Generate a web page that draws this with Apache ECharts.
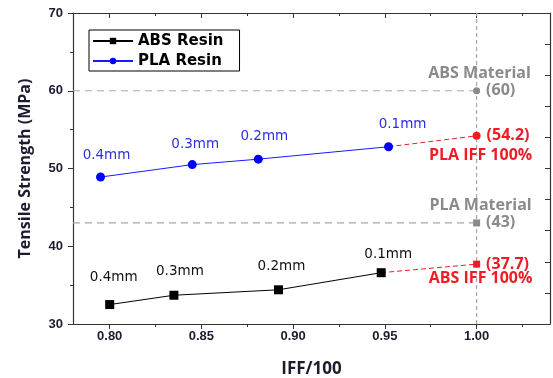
<!DOCTYPE html>
<html>
<head>
<meta charset="utf-8">
<script src="https://cdn.jsdelivr.net/npm/echarts@6/dist/echarts.min.js"></script>
<style>
  html, body { margin: 0; padding: 0; background: #fff; }
  #chart { width: 553px; height: 378px; }
</style>
</head>
<body>
<div id="chart"></div>
<script>
// data
const thickness = ['0.4mm', '0.3mm', '0.2mm', '0.1mm']
const absX = [0.800, 0.835, 0.892, 0.948]
const absY = [32.5, 33.7, 34.4, 36.6]
const plaX = [0.795, 0.845, 0.881, 0.952]
const plaY = [48.9, 50.5, 51.2, 52.8]
const iffX = 1.00
const absIff = 37.7
const plaIff = 54.2
const absMaterial = 60
const plaMaterial = 43

// axis ticks
const xMajorTicks = [0.80, 0.85, 0.90, 0.95, 1.00]
const xMinorTicks = [0.825, 0.875, 0.925, 0.975, 1.025]
const yRightTicks = [34, 38, 42, 46, 50, 54, 58, 62, 66]

// label offsets (px) for thickness labels
const absLabelOffsets = [[4, -27], [6, -24], [3, -23], [7, -18]]
const plaLabelOffsets = [[6, -22], [3, -20], [6, -23], [14, -22]]

const xMin = 0.78
const xMax = 1.04
const yMin = 30
const yMax = 70

const navy = '#1c1c30'
const grey = '#8a8a8a'
const red = '#ee1c25'
const blue = '#1a1aff'

const chart = echarts.init(document.getElementById('chart'))

const thicknessData = (xs, ys, offsets) => xs.map((x, i) => ({
  value: [x, ys[i]],
  label: { offset: offsets[i] }
}))

const baseX = {
  type: 'value', min: xMin, max: xMax,
  splitLine: { show: false }
}

const noteFont = { fontFamily: 'Open Sans', fontWeight: 'bold', fontSize: 16 }

const option = {
  animation: false,
  grid: { left: 73, right: 3, top: 13, bottom: 54, outerBoundsMode: 'none' },
  legend: {
    data: ['ABS Resin', 'PLA Resin'],
    orient: 'vertical',
    left: 89, top: 30,
    padding: [2, 16, 1, 3],
    itemGap: 2,
    itemWidth: 40, itemHeight: 8,
    borderColor: '#000', borderWidth: 1,
    textStyle: { fontFamily: 'DejaVu Sans', fontWeight: 'bold', fontSize: 15, lineHeight: 18, color: '#000' }
  },
  xAxis: [
    Object.assign({}, baseX, {
      position: 'bottom',
      name: 'IFF/100', nameLocation: 'middle', nameGap: 37,
      nameTextStyle: { fontFamily: 'Open Sans', fontWeight: 'bold', fontSize: 17, color: navy },
      axisLine: { show: true, lineStyle: { color: '#333', width: 1.2 } },
      axisTick: { show: true, customValues: xMajorTicks, length: 5, lineStyle: { color: '#333' } },
      axisLabel: {
        customValues: xMajorTicks, margin: 6,
        formatter: v => v.toFixed(2),
        fontFamily: 'Liberation Sans', fontWeight: 'bold', fontSize: 13, color: navy
      }
    }),
    Object.assign({}, baseX, {
      position: 'bottom',
      axisLine: { show: false },
      axisTick: { show: true, customValues: xMinorTicks, length: 3, lineStyle: { color: '#333' } },
      axisLabel: { show: false }
    }),
    Object.assign({}, baseX, {
      position: 'top',
      axisLine: { show: true, lineStyle: { color: '#333', width: 1.2 } },
      axisTick: { show: true, inside: true, customValues: xMajorTicks, length: 5, lineStyle: { color: '#333' } },
      axisLabel: { show: false }
    }),
    Object.assign({}, baseX, {
      position: 'top',
      axisLine: { show: false },
      axisTick: { show: true, inside: true, customValues: xMinorTicks, length: 3, lineStyle: { color: '#333' } },
      axisLabel: { show: false }
    })
  ],
  yAxis: [
    {
      type: 'value', min: yMin, max: yMax, interval: 10,
      position: 'left',
      name: 'Tensile Strength (MPa)', nameLocation: 'middle', nameGap: 40,
      nameTextStyle: { fontFamily: 'Open Sans', fontWeight: 'bold', fontSize: 16, color: navy },
      splitLine: { show: false },
      axisLine: { show: true, lineStyle: { color: '#333', width: 1.2 } },
      axisTick: { show: true, length: 5, lineStyle: { color: '#333' } },
      minorTick: { show: true, splitNumber: 2, length: 3, lineStyle: { color: '#333' } },
      axisLabel: { margin: 10, fontFamily: 'Liberation Sans', fontWeight: 'bold', fontSize: 13, color: navy }
    },
    {
      type: 'value', min: yMin, max: yMax,
      position: 'right',
      splitLine: { show: false },
      axisLine: { show: true, lineStyle: { color: '#333', width: 1.2 } },
      axisTick: { show: true, inside: true, customValues: yRightTicks, length: 5, lineStyle: { color: '#333' } },
      axisLabel: { show: false }
    }
  ],
  series: [
    // grey reference lines
    {
      type: 'line', silent: true, symbol: 'none', z: 1,
      data: [[xMin, absMaterial], [iffX, absMaterial]],
      lineStyle: { color: '#a8a8a8', width: 1.2, type: [7, 5] }
    },
    {
      type: 'line', silent: true, symbol: 'none', z: 1,
      data: [[xMin, plaMaterial], [iffX, plaMaterial]],
      lineStyle: { color: '#a8a8a8', width: 1.2, type: [7, 5] }
    },
    {
      type: 'line', silent: true, symbol: 'none', z: 1,
      data: [[iffX, yMin], [iffX, yMax]],
      lineStyle: { color: '#a8a8a8', width: 1.2, type: [4, 3] }
    },
    // red extrapolations
    {
      type: 'line', silent: true, symbol: 'none', z: 2,
      data: [[absX[absX.length - 1], absY[absY.length - 1]], [iffX, absIff]],
      lineStyle: { color: red, width: 1, type: [5, 3] }
    },
    {
      type: 'line', silent: true, symbol: 'none', z: 2,
      data: [[plaX[plaX.length - 1], plaY[plaY.length - 1]], [iffX, plaIff]],
      lineStyle: { color: red, width: 1, type: [5, 3] }
    },
    {
      name: 'ABS Resin', type: 'line', z: 3,
      symbol: 'rect', symbolSize: 9,
      itemStyle: { color: '#000' },
      lineStyle: { color: '#000', width: 1 },
      data: thicknessData(absX, absY, absLabelOffsets),
      label: {
        show: true, position: 'inside', color: '#111',
        textBorderWidth: 0,
        fontFamily: 'DejaVu Sans', fontSize: 13.5,
        formatter: p => thickness[p.dataIndex]
      }
    },
    {
      name: 'PLA Resin', type: 'line', z: 3,
      symbol: 'circle', symbolSize: 9,
      itemStyle: { color: '#0000ff' },
      lineStyle: { color: blue, width: 1 },
      data: thicknessData(plaX, plaY, plaLabelOffsets),
      label: {
        show: true, position: 'inside', color: '#2e2ee6',
        textBorderWidth: 0,
        fontFamily: 'DejaVu Sans', fontSize: 13.5,
        formatter: p => thickness[p.dataIndex]
      }
    },
    // raw material points
    {
      type: 'scatter', z: 4, silent: true,
      data: [
        { value: [iffX, absMaterial], symbol: 'circle', symbolSize: 7 },
        { value: [iffX, plaMaterial], symbol: 'rect', symbolSize: 7 }
      ],
      itemStyle: { color: grey, opacity: 1 },
      label: Object.assign({
        show: true, position: 'right', distance: 6, color: grey,
        formatter: p => '(' + p.value[1] + ')'
      }, noteFont)
    },
    {
      type: 'scatter', z: 4, silent: true, symbolSize: 1,
      data: [
        { value: [iffX, absMaterial], label: { offset: [3, -17] } },
        { value: [iffX, plaMaterial], label: { offset: [4, -17] } }
      ],
      itemStyle: { color: 'rgba(0,0,0,0)', opacity: 1 },
      label: Object.assign({
        show: true, position: 'inside', color: grey, textBorderWidth: 0,
        formatter: p => ['ABS Material', 'PLA Material'][p.dataIndex]
      }, noteFont)
    },
    // IFF 100% points
    {
      type: 'scatter', z: 4, silent: true,
      data: [
        { value: [iffX, plaIff], symbol: 'circle', symbolSize: 8 },
        { value: [iffX, absIff], symbol: 'rect', symbolSize: 7 }
      ],
      itemStyle: { color: red, opacity: 1 },
      label: Object.assign({
        show: true, position: 'right', distance: 6, color: red,
        formatter: p => '(' + p.value[1] + ')'
      }, noteFont)
    },
    {
      type: 'scatter', z: 4, silent: true, symbolSize: 1,
      data: [
        { value: [iffX, plaIff], label: { offset: [4, 20] } },
        { value: [iffX, absIff], label: { offset: [4, 14] } }
      ],
      itemStyle: { color: 'rgba(0,0,0,0)', opacity: 1 },
      label: Object.assign({
        show: true, position: 'inside', color: red, textBorderWidth: 0,
        formatter: p => ['PLA IFF 100%', 'ABS IFF 100%'][p.dataIndex]
      }, noteFont)
    }
  ]
}

option && chart.setOption(option)
</script>
</body>
</html>
